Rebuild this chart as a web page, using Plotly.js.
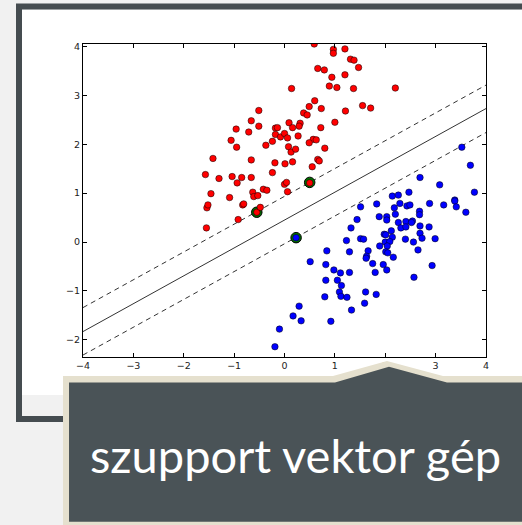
<!DOCTYPE html>
<html>
<head>
<meta charset="utf-8">
<script src="https://cdn.plot.ly/plotly-3.0.1.min.js"></script>
<style>
  html, body { margin: 0; padding: 0; background: #f1f1f1; }
  #chart { width: 522px; height: 525px; }
</style>
</head>
<body>
<div id="chart"></div>
<script>
// ---- data ----
const redX = [0.59,0.97,0.97,1.20,1.31,1.38,1.47,0.66,0.79,0.94,1.20,0.14,0.89,1.04,1.37,2.20,1.55,1.71,1.21,0.60,
  0.49,0.73,0.38,0.45,1.00,0.72,-0.51,-0.66,-0.51,-0.96,-0.71,-1.06,-0.95,0.09,0.16,0.31,0.29,-0.18,-0.14,-0.18,
  -0.08,0.00,0.06,0.27,-0.24,-0.37,0.08,0.13,0.22,0.57,0.63,0.49,0.80,0.16,0.01,-0.19,0.66,0.69,0.55,-0.66,
  -1.42,-1.57,-1.30,-1.04,-0.94,-0.85,-0.66,-0.24,0.00,0.04,0.50,-1.46,-1.09,-0.63,-0.61,-0.53,-0.42,-0.35,0.06,-1.54,
  -1.52,-1.55,-0.92,-0.83,-0.81,-0.55,-0.48];
const redY = [4.05,3.94,3.86,3.95,3.74,3.72,3.57,3.55,3.52,3.37,3.42,3.14,3.19,3.16,3.14,3.15,2.79,2.74,2.68,2.89,
  2.77,2.73,2.64,2.60,2.45,2.34,2.69,2.48,2.37,2.31,2.25,2.08,1.94,2.44,2.34,2.43,2.37,2.33,2.34,2.20,
  2.15,2.22,2.13,2.17,2.06,1.98,1.95,1.84,1.90,2.10,2.09,2.03,1.92,1.64,1.60,1.62,1.69,1.66,1.54,1.68,
  1.71,1.38,1.30,1.34,1.21,1.32,1.32,1.42,1.18,1.22,1.21,0.99,0.91,1.02,0.93,0.95,1.08,1.06,1.03,0.70,
  0.76,0.29,0.46,0.76,0.78,0.61,0.71];
const blueX = [3.52,3.69,2.69,3.08,3.77,2.14,2.26,2.47,3.38,1.51,1.83,1.88,2.03,2.03,2.18,2.29,2.20,2.43,2.49,2.68,
  2.68,2.88,3.16,3.38,3.41,3.60,1.44,1.32,2.26,2.41,2.54,2.52,2.31,2.41,2.69,2.87,2.12,1.98,2.01,2.14,
  2.69,2.73,2.99,2.40,1.51,1.57,1.23,2.00,2.09,2.56,1.89,2.04,2.65,0.84,1.66,1.29,2.01,2.05,1.63,1.62,
  2.16,1.75,1.96,0.51,0.82,2.93,0.98,1.11,1.29,1.80,2.03,2.57,0.82,1.05,1.13,1.09,1.12,1.24,0.80,1.61,
  1.82,1.59,1.33,0.29,0.17,0.33,0.92,-0.10,-0.19,0.23];
const blueY = [1.94,1.57,1.32,1.17,1.02,0.94,0.96,1.02,0.86,0.72,0.78,0.52,0.52,0.45,0.70,0.79,0.57,0.74,0.76,0.63,
  0.56,0.79,0.76,0.84,0.72,0.61,0.46,0.29,0.40,0.42,0.43,0.40,0.29,0.31,0.33,0.31,0.23,0.16,0.15,0.10,
  0.18,0.08,0.07,0.06,0.07,0.06,0.03,0.00,0.01,0.00,-0.08,-0.08,-0.16,-0.18,-0.18,-0.20,-0.20,-0.22,-0.29,-0.33,
  -0.31,-0.44,-0.46,-0.40,-0.46,-0.48,-0.57,-0.63,-0.62,-0.62,-0.57,-0.72,-0.78,-0.78,-0.89,-1.02,-1.11,-1.13,-1.12,-1.02,
  -1.07,-1.25,-1.39,-1.31,-1.51,-1.61,-1.62,-1.78,-2.14,0.09];
const svX = [-0.55, 0.50, 0.23];
const svY = [0.61, 1.22, 0.09];
const lineX = [-4, 4];
const boundaryY = [-1.83, 2.73];
const upperMarginY = [-1.34, 3.21];
const lowerMarginY = [-2.31, 2.24];
const tickVals = [-4, -3, -2, -1, 0, 1, 2, 3, 4];
const yTickVals = [-2, -1, 0, 1, 2, 3, 4];
const captionText = 'szupport vektor gép';

// ---- layout geometry ----
const W = 522, H = 525;
const M = { l: 83, r: 36, t: 44, b: 168 };
const PW = W - M.l - M.r, PH = H - M.t - M.b;
const px2x = p => (p - M.l) / PW;
const px2y = p => (H - M.b - p) / PH;
const path = pts => pts.map((p, i) => (i ? 'L' : 'M') + px2x(p[0]).toFixed(4) + ',' + px2y(p[1]).toFixed(4)).join(' ') + ' Z';

const traces = [
  { x: lineX, y: upperMarginY, mode: 'lines', line: { color: '#333', width: 1, dash: '5px,4px' }, hoverinfo: 'skip' },
  { x: lineX, y: lowerMarginY, mode: 'lines', line: { color: '#333', width: 1, dash: '5px,4px' }, hoverinfo: 'skip' },
  { x: lineX, y: boundaryY, mode: 'lines', line: { color: '#333', width: 1 }, hoverinfo: 'skip' },
  { x: svX, y: svY, mode: 'markers', marker: { size: 10.5, color: '#006e00', line: { color: '#000', width: 1 } } },
  { x: redX, y: redY, mode: 'markers', marker: { size: 6.5, color: '#ff0000', line: { color: '#000', width: 0.5 } } },
  { x: blueX, y: blueY, mode: 'markers', marker: { size: 6.5, color: '#0000ff', line: { color: '#000', width: 0.5 } } }
];

const axisCommon = {
  showgrid: false, zeroline: false, showline: true, linecolor: '#000', linewidth: 1,
  mirror: 'ticks', ticks: 'inside', ticklen: 4, tickcolor: '#000', tickwidth: 1,
  tickfont: { family: 'DejaVu Sans', size: 9.5, color: '#222' }, fixedrange: true
};

const layout = {
  width: W, height: H, margin: M,
  paper_bgcolor: '#f1f1f1', plot_bgcolor: '#ffffff',
  showlegend: false,
  xaxis: Object.assign({}, axisCommon, { range: [-4, 4], tickmode: 'array', tickvals: tickVals }),
  yaxis: Object.assign({}, axisCommon, { range: [-2.35, 4.05], tickmode: 'array', tickvals: yTickVals }),
  shapes: [
    { type: 'rect', xref: 'paper', yref: 'paper', layer: 'below',
      x0: px2x(22), x1: px2x(540), y0: px2y(395), y1: px2y(10), fillcolor: '#ffffff', line: { width: 0 } },
    { type: 'rect', xref: 'paper', yref: 'paper', layer: 'below',
      x0: px2x(19), x1: px2x(545), y0: px2y(419), y1: px2y(6.5), fillcolor: 'rgba(0,0,0,0)', line: { color: '#454c50', width: 6 } },
    { type: 'path', xref: 'paper', yref: 'paper', layer: 'above', line: { width: 0 }, fillcolor: '#e5e0ce',
      path: path([[63, 376], [333, 376], [387, 361], [443, 376], [540, 376], [540, 540], [63, 540]]) },
    { type: 'path', xref: 'paper', yref: 'paper', layer: 'above', line: { width: 0 }, fillcolor: '#4a5357',
      path: path([[69, 382.5], [335, 382.5], [389, 366.7], [447, 382.5], [540, 382.5], [540, 521.7], [69, 521.7]]) }
  ],
  annotations: [
    { text: captionText, xref: 'paper', yref: 'paper', x: px2x(295), y: px2y(455),
      xanchor: 'center', yanchor: 'middle', showarrow: false,
      font: { family: 'Lato', size: 47, color: '#ffffff' } }
  ]
};

Plotly.newPlot('chart', traces, layout, { displayModeBar: false, staticPlot: true });
</script>
</body>
</html>
